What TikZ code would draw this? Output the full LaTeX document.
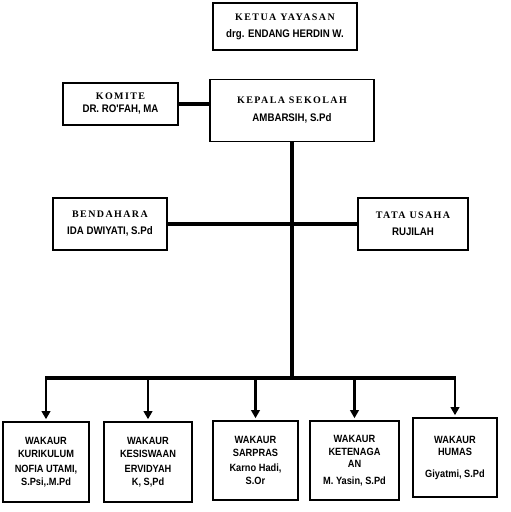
\documentclass[tikz,border=0pt]{standalone}
\usepackage{fontspec}
\usepackage{tikz}
\usetikzlibrary{arrows.meta,positioning}
\newfontfamily\headfont{Liberation Serif Bold}[LetterSpace=14]
\newfontfamily\namefont{Liberation Sans Bold}[FakeStretch=0.88]

\tikzset{
    orgbox/.style={draw=black, line width=1.6pt, fill=white, align=center,
        inner sep=1pt, font=\fontsize{10}{12}\selectfont},
    lowbox/.style={orgbox, font=\namefont\fontsize{10.5}{12.5}\selectfont},
    thickline/.style={line width=3.6pt},
    downarrow/.style={line width=2.2pt, -{Triangle[length=8pt,width=8.5pt]}, shorten >=2pt}
}

\begin{document}
\begin{tikzpicture}[x=1pt, y=-1pt]
    \useasboundingbox[fill=white] (0,0) rectangle (511,512);
    % top level
    \node[orgbox, minimum width=144pt, minimum height=47pt] (ketua) at (285,26.5)
        {\headfont KETUA YAYASAN\\[5pt]\namefont\fontsize{11}{13}\selectfont drg. ENDANG HERDIN W.};
    \node[orgbox, minimum width=164pt, minimum height=62pt] (kepala) at (292,110.5)
        {\headfont KEPALA SEKOLAH\\[6pt]\namefont\fontsize{11}{13}\selectfont AMBARSIH, S.Pd};
    \node[orgbox, minimum width=115pt, minimum height=42pt] (komite) at (120.5,104)
        {\headfont KOMITE\\[1pt]\namefont\fontsize{11}{13}\selectfont DR. RO'FAH, MA};
    % staff
    \node[orgbox, minimum width=114pt, minimum height=52pt] (bendahara) at (110,224)
        {\headfont BENDAHARA\\[5pt]\namefont\fontsize{11}{13}\selectfont IDA DWIYATI, S.Pd};
    \node[orgbox, minimum width=110pt, minimum height=52pt] (tatausaha) at (413,224)
        {\headfont TATA USAHA\\[5pt]\namefont\fontsize{11}{13}\selectfont RUJILAH};
    % wakaur row
    \node[lowbox, minimum width=86pt, minimum height=80pt] (kurikulum) at (46,462)
        {WAKAUR\\KURIKULUM\\[3pt]NOFIA UTAMI,\\S.Psi,.M.Pd};
    \node[lowbox, minimum width=88pt, minimum height=80pt] (kesiswaan) at (148,462)
        {WAKAUR\\KESISWAAN\\[3pt]ERVIDYAH\\K, S,Pd};
    \node[lowbox, minimum width=85pt, minimum height=79pt] (sarpras) at (255.5,460.5)
        {WAKAUR\\SARPRAS\\[3pt]Karno Hadi,\\S.Or};
    \node[lowbox, minimum width=89pt, minimum height=79pt] (ketenagaan) at (354.5,460.5)
        {WAKAUR\\KETENAGA\\AN\\[4pt]M. Yasin, S.Pd};
    \node[lowbox, minimum width=84pt, minimum height=79pt] (humas) at (455,457.5)
        {WAKAUR\\HUMAS\\[9pt]Giyatmi, S.Pd};
    % connectors
    \coordinate (bus) at (292,378);
    \draw[thickline] (komite.east) -- (komite.east -| kepala.west);
    \draw[thickline] (kepala.south) -- (bus);
    \draw[thickline] (bendahara.east) -- (tatausaha.west);
    \draw[thickline] ([xshift=-1pt]kurikulum.north |- bus) -- ([xshift=1pt]humas.north |- bus);
    \foreach \w in {kurikulum,kesiswaan,sarpras,ketenagaan,humas} {
        \draw[downarrow] (\w.north |- bus) -- (\w.north);
    }
\end{tikzpicture}
\end{document}
